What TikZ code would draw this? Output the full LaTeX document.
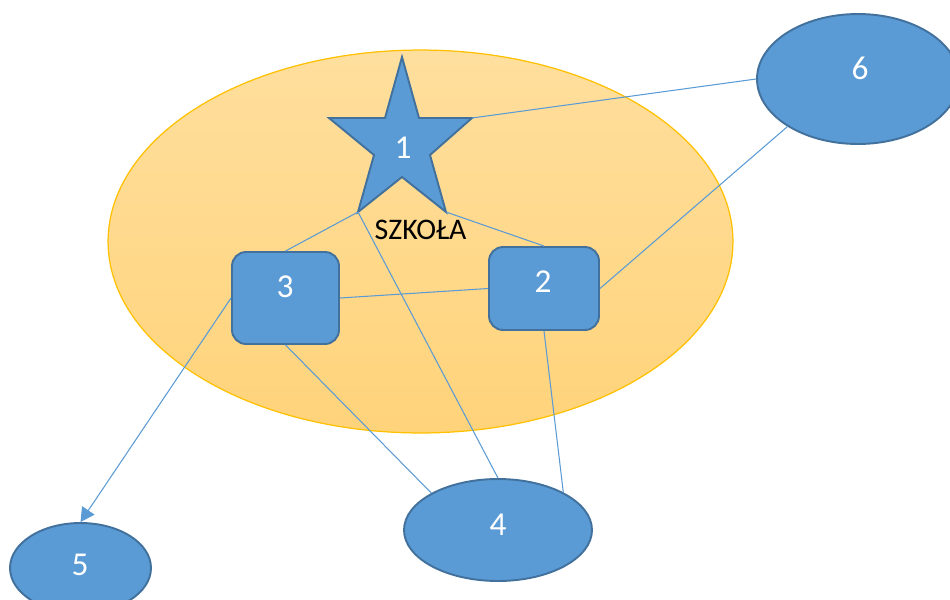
\documentclass[tikz,border=0pt]{standalone}
\usepackage{fontspec}
\setmainfont{Carlito}
\usetikzlibrary{shapes.geometric,arrows.meta}
\definecolor{boxblue}{HTML}{5B9BD5}
\definecolor{boxedge}{HTML}{41719C}
\definecolor{schooltop}{HTML}{FFDF9E}
\definecolor{schoolbot}{HTML}{FFD37A}
\definecolor{schooledge}{HTML}{FFC000}
\tikzset{
  shapebase/.style={fill=boxblue, draw=boxedge, line width=1.1pt, inner sep=0pt},
  oval/.style={shapebase, ellipse},
  roundbox/.style={shapebase, rectangle, rounded corners=8pt},
  numtext/.style={text=white, font=\fontsize{19}{21}\selectfont, inner sep=0pt},
  link/.style={draw=boxblue, line width=0.6pt},
}
\begin{document}
\begin{tikzpicture}[x=0.02cm, y=-0.02cm]
\useasboundingbox (0,0) rectangle (950,599);
\begin{scope}
\clip (0,0) rectangle (950,599);

% school area
\node[ellipse, draw=schooledge, line width=0.7pt, top color=schooltop, bottom color=schoolbot,
      minimum width=12.5cm, minimum height=7.66cm, inner sep=0pt] (school) at (420.5,241.5) {};

% star corners
\coordinate (stop) at (402,57);
\coordinate (sright) at (472,118);
\coordinate (sbr) at (446,212);
\coordinate (sbl) at (358,212);
\coordinate (sleft) at (329,118);
\draw[shapebase] (stop) -- (419,118) -- (sright) -- (430,155) -- (sbr) -- (402,177)
   -- (sbl) -- (374,155) -- (sleft) -- (385,118) -- cycle;
\node[numtext] (t1) at (403,148) {1};
\node[inner sep=0pt, font=\fontsize{17}{19}\selectfont] (label) at (420.5,230) {SZKOŁA};

% other nodes
\node[roundbox, minimum width=2.14cm, minimum height=1.84cm] (n3) at (285.5,298) {};
\node[roundbox, minimum width=2.2cm, minimum height=1.66cm] (n2) at (544,288.5) {};
\node[oval, minimum width=4.04cm, minimum height=2.6cm] (n6) at (858,79) {};
\node[oval, minimum width=3.76cm, minimum height=2.04cm] (n4) at (498,530) {};
\node[oval, minimum width=2.82cm, minimum height=1.8cm] (n5) at (80.5,568) {};

\node[numtext] (t3) at (285,287) {3};
\node[numtext] (t2) at (543,282) {2};
\node[numtext] (t6) at (860,68) {6};
\node[numtext] (t4) at (498,525) {4};
\node[numtext] (t5) at (80,565) {5};

% connectors
\draw[link] (sright) -- (n6.west);
\draw[link] (sbl) -- (n3.north);
\draw[link] (sbr) -- (n2.north);
\draw[link] (sbl) -- (n4.north);
\draw[link] (n3.east) -- (n2.west);
\draw[link] (n2.east) -- (n6.214);
\draw[link] (n3.south) -- (n4.151);
\draw[link] (n2.south) -- (n4.30);
\draw[link, -{Triangle[length=8pt,width=8.5pt]}] (n3.west) -- (n5.north);
\end{scope}
\end{tikzpicture}
\end{document}
